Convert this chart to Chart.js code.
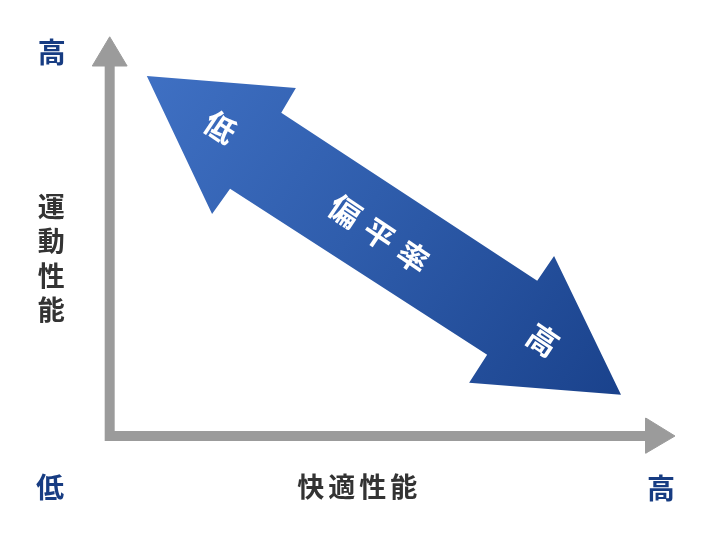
<!DOCTYPE html>
<html lang="ja">
<head>
<meta charset="utf-8">
<title>偏平率と性能</title>
<script src="https://cdn.jsdelivr.net/npm/chart.js@4.4.1/dist/chart.umd.min.js"></script>
<style>
    html, body { margin: 0; padding: 0; background: #fff; }
    #wrap { width: 720px; height: 540px; position: relative; }
</style>
</head>
<body>
<div id="wrap"><canvas id="diagramChart"></canvas></div>
<script>
// ============================================
// Diagrama: 運動性能 x 快適性能 / 偏平率
// ============================================

// Axis labels
const axisXTitle = '快適性能';
const axisYTitle = '運動性能';
const axisLow = '低';
const axisHigh = '高';

// Labels inside the big arrow
const arrowLabels = ['低', '偏平率', '高'];

// Axis frame (0..10 in both directions)
const axisLinePoints = [[0, 9.3], [0, 0], [9.6, 0]];
const yHeadPoints = [[-0.31, 9.25], [0.31, 9.25], [0, 9.98], [-0.31, 9.25]];
const xHeadPoints = [[9.53, 0.45], [9.53, -0.43], [10.05, 0], [9.53, 0.45]];

// Double headed arrow (偏平率)
const arrowPoints = [
    [0.66, 9.0], [3.31, 8.7], [3.05, 8.08], [7.6, 3.88], [7.9, 4.5],
    [9.09, 1.03], [6.39, 1.33], [6.71, 2.03], [2.14, 6.18], [1.82, 5.55],
    [0.66, 9.0]
];

const toXY = pts => pts.map(p => ({ x: p[0], y: p[1] }));

const GRAY = '#9b9b9b';
const NAVY = '#173c82';
const FONT = '"Noto Sans CJK JP", "Noto Sans", sans-serif';

// Gradient for the big arrow
function arrowGradient(context) {
    const chart = context.chart;
    if (!chart.chartArea) return '#2d5aa8';
    const xs = chart.scales.x, ys = chart.scales.y;
    const first = arrowPoints[0];
    const tip = arrowPoints[5];
    const g = chart.ctx.createLinearGradient(
        xs.getPixelForValue(first[0]), ys.getPixelForValue(first[1]),
        xs.getPixelForValue(tip[0]), ys.getPixelForValue(tip[1])
    );
    g.addColorStop(0, '#3f70c3');
    g.addColorStop(0.45, '#2f5dac');
    g.addColorStop(1, '#1a428c');
    return g;
}

// Draw a string char by char
function drawSpaced(ctx, text, cx, cy, pitch) {
    const chars = Array.from(text);
    const start = cx - pitch * (chars.length - 1) / 2;
    chars.forEach((ch, i) => ctx.fillText(ch, start + i * pitch, cy));
}

// Text plugin
const textPlugin = {
    id: 'diagramText',
    afterDatasetsDraw(chart) {
        const ctx = chart.ctx;
        const xs = chart.scales.x, ys = chart.scales.y;
        const px = v => xs.getPixelForValue(v);
        const py = v => ys.getPixelForValue(v);

        ctx.save();
        ctx.textAlign = 'center';
        ctx.textBaseline = 'middle';

        // Low / high marks
        ctx.fillStyle = NAVY;
        ctx.font = 'bold 28px ' + FONT;
        ctx.fillText(axisHigh, px(-1.03), py(9.6));
        ctx.fillText(axisLow, px(-1.06), py(-1.28));
        ctx.fillText(axisHigh, px(9.8), py(-1.3));

        // Axis titles
        ctx.fillStyle = '#333';
        ctx.font = 'bold 27px ' + FONT;
        drawSpaced(ctx, axisXTitle, px(4.4), py(-1.28), 31);
        Array.from(axisYTitle).forEach((ch, i) => {
            ctx.fillText(ch, px(-1.04), py(4.45) + (i - 1.5) * 34.5);
        });

        // Labels along the arrow
        const a = arrowPoints[0], b = arrowPoints[5];
        const angle = Math.atan2(py(b[1]) - py(a[1]), px(b[0]) - px(a[0]));
        const spots = [[1.97, 7.72], [4.79, 5.05], [7.7, 2.4]];
        ctx.fillStyle = '#fff';
        arrowLabels.forEach((label, i) => {
            ctx.save();
            ctx.translate(px(spots[i][0]), py(spots[i][1]));
            ctx.rotate(angle);
            ctx.font = 'bold 31px ' + FONT;
            drawSpaced(ctx, label, 0, 0, 41);
            ctx.restore();
        });

        ctx.restore();
    }
};

const canvas = document.getElementById('diagramChart');
new Chart(canvas, {
    type: 'scatter',
    data: {
        datasets: [
            {
                data: toXY(axisLinePoints),
                showLine: true,
                borderColor: GRAY,
                borderWidth: 10,
                borderCapStyle: 'butt',
                borderJoinStyle: 'miter',
                pointRadius: 0,
                fill: false
            },
            {
                data: toXY(yHeadPoints),
                showLine: true,
                borderColor: GRAY,
                borderWidth: 1,
                backgroundColor: GRAY,
                pointRadius: 0,
                fill: 'shape'
            },
            {
                data: toXY(xHeadPoints),
                showLine: true,
                borderColor: GRAY,
                borderWidth: 1,
                backgroundColor: GRAY,
                pointRadius: 0,
                fill: 'shape'
            },
            {
                data: toXY(arrowPoints),
                showLine: true,
                borderColor: 'rgba(0,0,0,0)',
                borderWidth: 0,
                backgroundColor: arrowGradient,
                pointRadius: 0,
                tension: 0,
                fill: 'shape'
            }
        ]
    },
    options: {
        responsive: true,
        maintainAspectRatio: false,
        animation: false,
        layout: { padding: 0 },
        plugins: {
            legend: { display: false },
            tooltip: { enabled: false }
        },
        scales: {
            x: { type: 'linear', display: false, min: -1.95, max: 10.85 },
            y: { type: 'linear', display: false, min: -2.6, max: 10.9 }
        }
    },
    plugins: [textPlugin]
});
</script>
</body>
</html>
